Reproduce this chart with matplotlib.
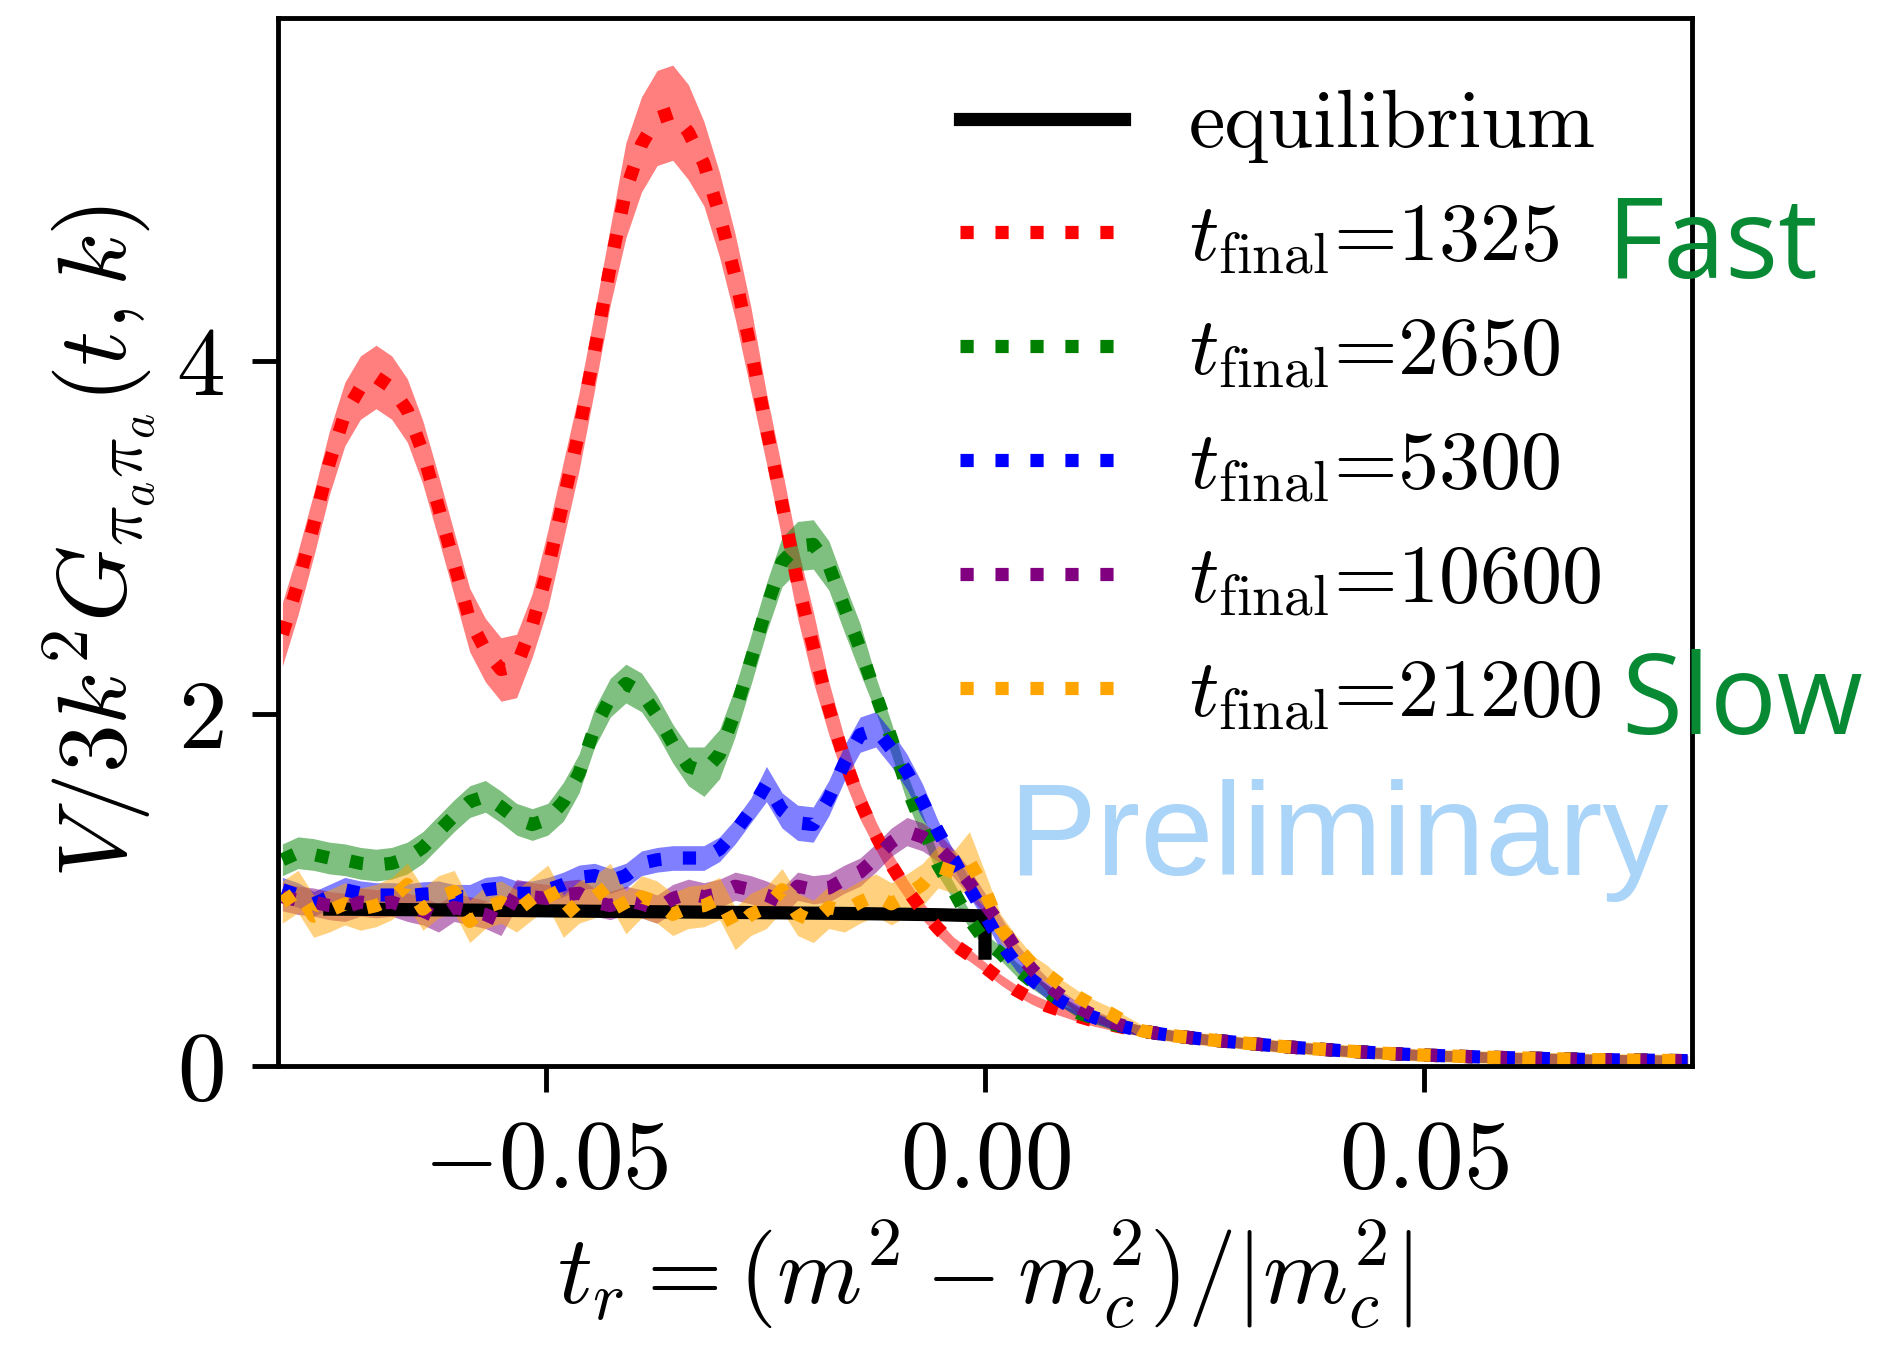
import numpy as np
import matplotlib
matplotlib.use("Agg")
import matplotlib.pyplot as plt

plt.rcParams['font.family'] = 'serif'
plt.rcParams['font.serif'] = ['cmr10']
plt.rcParams['mathtext.fontset'] = 'cm'
plt.rcParams['axes.formatter.use_mathtext'] = True

# grid of reduced temperature, 91 points from -0.08 to 0.08
t_r = np.linspace(-0.08, 0.08, 91)

# shared tail for t_r > 0.016 (all runs agree there)
tail = [0.20, 0.185, 0.172, 0.162, 0.152, 0.143, 0.135, 0.127, 0.119, 0.111,
        0.104, 0.098, 0.092, 0.086, 0.080, 0.075, 0.070, 0.066, 0.062, 0.059,
        0.056, 0.053, 0.050, 0.048, 0.046, 0.044, 0.042, 0.040, 0.038, 0.036,
        0.035, 0.034, 0.033, 0.032, 0.031, 0.030]

red_head = [2.45, 2.74, 3.07, 3.42, 3.70, 3.85, 3.91, 3.85, 3.72, 3.48,
            3.17, 2.85, 2.53, 2.36, 2.25, 2.27, 2.50, 2.82, 3.21, 3.60,
            4.06, 4.54, 4.97, 5.23, 5.38, 5.41, 5.30, 5.12, 4.83, 4.48,
            4.07, 3.62, 3.19, 2.74, 2.38, 2.03, 1.74, 1.50, 1.31, 1.14,
            1.00, 0.88, 0.78, 0.69, 0.63, 0.56, 0.49, 0.43, 0.38, 0.34,
            0.31, 0.28, 0.255, 0.235, 0.215]

green_head = [1.17, 1.21, 1.20, 1.18, 1.17, 1.15, 1.14, 1.15, 1.18, 1.24,
              1.33, 1.42, 1.50, 1.53, 1.47, 1.40, 1.37, 1.40, 1.50, 1.66,
              1.92, 2.09, 2.17, 2.12, 1.99, 1.83, 1.70, 1.67, 1.77, 2.01,
              2.30, 2.60, 2.86, 2.95, 2.96, 2.84, 2.60, 2.37, 2.11, 1.86,
              1.58, 1.36, 1.14, 0.99, 0.83, 0.71, 0.64, 0.55, 0.48, 0.42,
              0.36, 0.30, 0.27, 0.24, 0.22]

blue_head = [1.00, 0.97, 0.92, 0.96, 1.00, 0.98, 0.97, 0.97, 0.965, 0.975,
             0.98, 0.96, 0.96, 1.00, 1.01, 0.98, 0.98, 1.00, 1.03, 1.07,
             1.08, 1.05, 1.08, 1.15, 1.17, 1.18, 1.18, 1.18, 1.23, 1.33,
             1.45, 1.60, 1.45, 1.38, 1.37, 1.52, 1.72, 1.88, 1.91, 1.80,
             1.67, 1.50, 1.33, 1.17, 1.01, 0.86, 0.70, 0.58, 0.49, 0.42,
             0.36, 0.31, 0.275, 0.245, 0.22]

purple_head = [0.96, 0.94, 0.93, 0.91, 0.90, 0.93, 0.92, 0.93, 0.90, 0.88,
               0.84, 0.90, 0.88, 0.86, 0.82, 0.98, 0.96, 0.95, 0.97, 0.98,
               0.93, 0.91, 0.94, 0.92, 0.89, 0.95, 0.98, 0.96, 0.98, 1.02,
               1.00, 0.97, 0.93, 1.02, 1.00, 1.01, 1.06, 1.10, 1.18, 1.27,
               1.33, 1.30, 1.24, 1.15, 1.04, 0.92, 0.80, 0.66, 0.55, 0.46,
               0.39, 0.33, 0.285, 0.25, 0.225]

orange_head = [0.93, 0.99, 0.85, 0.88, 0.92, 0.89, 0.91, 0.95, 1.03, 0.89,
               0.96, 0.99, 0.82, 0.90, 0.93, 0.88, 0.95, 1.02, 0.85, 0.93,
               0.96, 1.03, 0.87, 0.96, 0.93, 0.86, 0.90, 0.91, 0.95, 0.78,
               0.86, 0.90, 1.00, 0.86, 0.82, 0.90, 0.88, 0.93, 0.97, 0.92,
               0.97, 1.03, 1.13, 1.10, 1.16, 1.00, 0.78, 0.68, 0.58, 0.52,
               0.45, 0.39, 0.34, 0.30, 0.25]

red_err = [0.18] * 17 + [0.22] * 5 + [0.27] * 5 + [0.24] * 4 + [0.20] * 4 + \
          [0.15, 0.12, 0.10, 0.08, 0.07, 0.06, 0.05, 0.045, 0.04, 0.035,
           0.03, 0.03, 0.03, 0.03, 0.03] + [0.03] * 41
green_err = [0.09] * 18 + [0.11] * 9 + [0.14] * 11 + \
            [0.10, 0.09, 0.08, 0.07, 0.06, 0.05, 0.05] + [0.04] * 5 + [0.03] * 41
blue_err = [0.07] * 31 + [0.10] * 11 + [0.06, 0.05, 0.05, 0.04] + [0.04] * 4 + [0.03] * 41
purple_err = [0.08] * 45 + [0.06, 0.05, 0.04, 0.04, 0.04] + [0.03] * 41
orange_err = [0.12] * 44 + [0.17, 0.10, 0.08, 0.06, 0.05, 0.05] + [0.035] * 41

runs = [
    ('red', 1325, red_head, red_err),
    ('green', 2650, green_head, green_err),
    ('blue', 5300, blue_head, blue_err),
    ('purple', 10600, purple_head, purple_err),
    ('orange', 21200, orange_head, orange_err),
]

# equilibrium curve
eq_x = [-0.0746, -0.06, -0.045, -0.03, -0.015, -0.005, -0.0006, 0.0, 0.0]
eq_y = [0.89, 0.885, 0.878, 0.872, 0.865, 0.858, 0.852, 0.84, 0.64]

x_ticks = [-0.05, 0.0, 0.05]
x_ticklabels = [r'$-0.05$', r'$0.00$', r'$0.05$']
y_ticks = [0, 2, 4]
y_ticklabels = [r'$0$', r'$2$', r'$4$']

fig = plt.figure(figsize=(18.81, 13.51), dpi=100)
ax = fig.add_axes([0.1478, 0.211, 0.7517, 0.776])

ax.plot(eq_x, eq_y, color='black', lw=9.5, label='equilibrium')

for color, tfinal, head, err in runs:
    y = np.array(head + tail)
    e = np.array(err)
    ax.fill_between(t_r, y - e, y + e, color=color, alpha=0.5, lw=0)
    ax.plot(t_r, y, ls=':', color=color, lw=9.5,
            label=r'$t_{\mathrm{final}}$=' + str(tfinal))

ax.set_xlim(-0.0805, 0.0805)
ax.set_ylim(0, 5.95)
ax.set_xticks(x_ticks)
ax.set_xticklabels(x_ticklabels)
ax.set_yticks(y_ticks)
ax.set_yticklabels(y_ticklabels)
ax.tick_params(labelsize=70, length=19, width=3.5, pad=20)
for sp in ax.spines.values():
    sp.set_linewidth(3.5)

ax.set_xlabel(r'$t_r = (m^2 - m_c^2)/|m_c^2|$', fontsize=70, labelpad=8)
ax.set_ylabel(r'$V/3k^2G_{\pi_a\pi_a}(t,k)$', fontsize=70, labelpad=12)

ax.legend(loc='upper left', bbox_to_anchor=(0.471, 0.988), bbox_transform=fig.transFigure,
          frameon=False, fontsize=59, labelspacing=0.49, handlelength=2.0,
          handletextpad=0.8)

fig.text(0.854, 0.794, 'Fast', color='#088a35', fontsize=80,
         family='Open Sans', va='baseline')
fig.text(0.862, 0.457, 'Slow', color='#088a35', fontsize=80,
         family='Open Sans', va='baseline')
fig.text(0.536, 0.352, 'Preliminary', color='#aad4f8', fontsize=95,
         family='Liberation Sans', va='baseline')

fig.savefig('out.png', dpi=100)
